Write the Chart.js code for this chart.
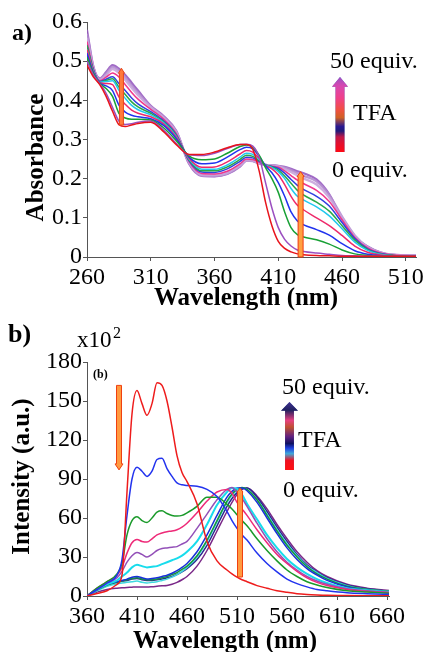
<!DOCTYPE html>
<html><head><meta charset="utf-8">
<script src="https://cdn.jsdelivr.net/npm/chart.js@4.4.0/dist/chart.umd.min.js"></script>
<style>
html,body{margin:0;padding:0;background:#fff;}
#wrap{position:relative;width:424px;height:652px;overflow:hidden;background:#fff;font-family:"Liberation Serif","Times New Roman","DejaVu Serif",serif;color:#000;}
canvas{position:absolute;left:0;}
.t{position:absolute;white-space:nowrap;line-height:1;font-family:"Liberation Serif","Times New Roman","DejaVu Serif",serif;}
.b{font-weight:bold;}
.rot{position:absolute;width:220px;height:25px;line-height:25px;text-align:center;font-weight:bold;font-size:25px;transform:rotate(-90deg);white-space:nowrap;font-family:"Liberation Serif","Times New Roman","DejaVu Serif",serif;}
.gw{position:absolute;filter:drop-shadow(0 0 0.7px #5a7ec4);}
.ga{position:absolute;left:0;top:0;width:100%;height:100%;}
</style></head>
<body><div id="wrap">
<canvas id="ca" width="424" height="320" style="top:0;width:424px;height:320px"></canvas>
<canvas id="cb" width="424" height="332" style="top:320px;width:424px;height:332px"></canvas>

<div class="t b" style="left:12px;top:20px;font-size:24px">a)</div>
<div class="t" style="left:330px;top:48px;font-size:24px">50 equiv.</div>
<div class="t" style="left:353px;top:100px;font-size:24px">TFA</div>
<div class="t" style="left:332px;top:157px;font-size:24px">0 equiv.</div>
<div class="t b" style="left:96px;width:300px;text-align:center;top:284px;font-size:25px">Wavelength (nm)</div>
<div class="rot" style="left:-76.5px;top:144.5px">Absorbance</div>
<div class="gw" style="left:332px;top:77px;width:16px;height:75px"><div class="ga" style="clip-path:polygon(50% 0,100% 13%,78% 13%,78% 100%,22% 100%,22% 13%,0 13%);background:linear-gradient(to top,#ff0a14 0%,#e01030 12%,#c01848 20%,#201a7a 28%,#2a1890 34%,#d06024 46%,#f05040 56%,#f0408a 72%,#d848b0 88%,#9a50c4 100%)"></div></div>

<div class="t b" style="left:8px;top:321px;font-size:26px">b)</div>
<div class="t" style="left:77px;top:328px;font-size:23px">x10</div>
<div class="t" style="left:113px;top:325px;font-size:16px">2</div>
<div class="t b" style="left:93px;top:368px;font-size:12px">(b)</div>
<div class="t" style="left:282px;top:374px;font-size:24px">50 equiv.</div>
<div class="t" style="left:298px;top:427px;font-size:24px">TFA</div>
<div class="t" style="left:283px;top:477px;font-size:24px">0 equiv.</div>
<div class="t b" style="left:75px;width:300px;text-align:center;top:627px;font-size:25px">Wavelength (nm)</div>
<div class="rot" style="left:-90.2px;top:464px">Intensity (a.u.)</div>
<div class="gw" style="left:281px;top:402px;width:17px;height:68px"><div class="ga" style="clip-path:polygon(50% 0,100% 13%,76% 13%,76% 100%,24% 100%,24% 13%,0 13%);background:linear-gradient(to top,#ff1010 0%,#f01020 14%,#40a8d8 24%,#2040e0 32%,#101060 39%,#602080 49%,#c05030 63%,#e84080 73%,#202060 88%,#403090 100%)"></div></div>
</div>
<script>
// ---------- Panel a: absorbance ----------
const WA = [260,265,270,275,280,285,290,295,300,310,320,330,340,350,360,370,380,385,390,395,400,405,410,415,420,425,430,440,450,460,470,480,490,500,520];
const absS1  = [0.49,0.46,0.44,0.41,0.372,0.338,0.333,0.337,0.341,0.344,0.32,0.287,0.262,0.262,0.268,0.279,0.287,0.287,0.275,0.22,0.14,0.08,0.04,0.022,0.013,0.008,0.006,0.004,0.003,0.002,0.002,0.002,0.002,0.002,0.002];
const absS2  = [0.50,0.465,0.442,0.418,0.382,0.347,0.338,0.34,0.344,0.347,0.324,0.29,0.261,0.259,0.265,0.277,0.287,0.288,0.283,0.255,0.19,0.125,0.075,0.045,0.028,0.018,0.014,0.01,0.007,0.004,0.003,0.002,0.002,0.002,0.002];
const absS3  = [0.51,0.468,0.443,0.43,0.41,0.367,0.355,0.352,0.352,0.35,0.33,0.297,0.258,0.248,0.25,0.265,0.282,0.286,0.28,0.26,0.228,0.2,0.165,0.115,0.075,0.057,0.051,0.044,0.033,0.018,0.008,0.004,0.002,0.002,0.002];
const absS4  = [0.52,0.47,0.444,0.437,0.425,0.388,0.37,0.362,0.358,0.353,0.336,0.302,0.255,0.238,0.24,0.255,0.274,0.28,0.276,0.257,0.233,0.215,0.19,0.155,0.115,0.092,0.082,0.07,0.056,0.034,0.016,0.007,0.003,0.002,0.002];
const absS5  = [0.53,0.472,0.445,0.443,0.44,0.409,0.39,0.375,0.367,0.358,0.34,0.306,0.252,0.229,0.23,0.243,0.263,0.272,0.268,0.252,0.234,0.225,0.21,0.185,0.155,0.132,0.12,0.1,0.08,0.055,0.028,0.012,0.005,0.003,0.002];
const absS6  = [0.53,0.474,0.446,0.448,0.45,0.426,0.405,0.387,0.376,0.363,0.343,0.308,0.25,0.224,0.224,0.235,0.255,0.265,0.262,0.249,0.235,0.228,0.218,0.2,0.175,0.155,0.145,0.128,0.105,0.072,0.038,0.017,0.007,0.003,0.002];
const absS7  = [0.54,0.476,0.447,0.451,0.455,0.434,0.415,0.396,0.383,0.367,0.345,0.31,0.248,0.22,0.22,0.23,0.249,0.26,0.257,0.246,0.235,0.23,0.222,0.207,0.188,0.17,0.158,0.14,0.117,0.08,0.043,0.019,0.008,0.004,0.002];
const absS8  = [0.54,0.478,0.448,0.454,0.46,0.443,0.425,0.406,0.391,0.371,0.348,0.312,0.246,0.217,0.216,0.225,0.244,0.255,0.253,0.244,0.235,0.231,0.226,0.214,0.198,0.183,0.172,0.155,0.13,0.088,0.047,0.021,0.009,0.004,0.002];
const absS9  = [0.55,0.48,0.45,0.459,0.47,0.46,0.44,0.42,0.403,0.377,0.352,0.315,0.244,0.213,0.212,0.219,0.238,0.25,0.249,0.242,0.235,0.232,0.229,0.22,0.208,0.196,0.187,0.17,0.142,0.095,0.05,0.023,0.01,0.005,0.003];
const absS10 = [0.56,0.482,0.452,0.464,0.48,0.47,0.452,0.432,0.413,0.382,0.356,0.318,0.242,0.21,0.209,0.215,0.234,0.247,0.246,0.24,0.235,0.233,0.231,0.225,0.217,0.208,0.2,0.185,0.152,0.1,0.053,0.025,0.011,0.005,0.003];
const absS11 = [0.57,0.484,0.454,0.468,0.485,0.476,0.458,0.438,0.419,0.384,0.358,0.32,0.24,0.208,0.207,0.213,0.232,0.246,0.245,0.239,0.235,0.234,0.232,0.228,0.222,0.214,0.207,0.193,0.158,0.103,0.055,0.026,0.011,0.005,0.003];
const absS12 = [0.58,0.486,0.456,0.472,0.49,0.481,0.465,0.445,0.425,0.386,0.36,0.322,0.238,0.207,0.206,0.212,0.231,0.246,0.245,0.239,0.235,0.234,0.233,0.23,0.225,0.219,0.214,0.198,0.16,0.097,0.05,0.027,0.012,0.006,0.004];
const XTA = [260,310,360,410,460,510];
const YTA = [0,0.1,0.2,0.3,0.4,0.5,0.6];
const YLA = ['0','0.1','0.2','0.3','0.4','0.5','0.6'];
// arrows in panel a: [wavelength, from, to]
const arrowsA = [[287,0.337,0.482],[427.5,0.0,0.218]];

// ---------- Panel b: emission ----------
const WB = [360,370,380,390,395,400,405,410,415,420,425,430,435,440,445,450,455,460,470,480,490,500,505,510,515,520,530,540,550,560,570,580,590,600,620,640,665];
const emS1  = [0,2,4,9,16,80,140,158,148,139,148,164,162,150,130,108,95,88,71,42,27,20,17,14.5,12.5,11,8,6,4,2.8,1.8,1.2,0.8,0.5,0.3,0.2,0.1];
const emS2  = [0,5,10,16,28,62,90,99,96,92,96,105,106,98,92,87,85.5,85,84.5,82,76.5,65,58,52,47,43,33,25,18.5,13,9.5,7,5,4,2.5,1.8,1.2];
const emS3  = [0,6,11,17,25,47,58,61,58,56.5,60,64.5,65.5,63.5,62,61.5,62,64,69,76,76,70.5,67,62.5,58,54,44,35,27,20,15,11,8.5,6.5,4,3,2];
const emS4  = [0,6,11,16,22,33,41,43.5,42,41.5,44,47,48.5,49.5,50,51,53,56,64,73,80,82,79,72,67,62,51,41,32,25,19,14,10.5,8,5,3.5,2.5];
const emS5  = [0,5,10,14,19,26,31,33.5,32,30,32,35,36.5,37,37.5,38,40,42,52,63,74,82,83.5,80,75,69,56,44,34,26,20,15,11.5,9,5.5,4,2.5];
const emS6  = [0,5,9,12,15,18,22,24,23,22,22.5,23,24.5,26,27.5,29,31,34,42,55,70,80,83,82.5,78,71,59,47,37,28.5,22,17,13,10,6,4.5,3];
const emS7  = [0,5,9,11,12,13,14.5,15,14,13,13.5,14,15,16,17.5,19.5,22,25,34,47,62,76,80.5,83,83,81,72,60,48,37,28,21,16,12,7,4.5,3];
const emS8  = [0,4.5,8.5,10.5,11.5,12.5,13.5,14,13,12.5,12.5,13,14,15,16.5,18,20.5,23,31,43,58,73,78.5,82,83.5,82,74,62,50,39,30,22.5,17,13,7.5,5,3.5];
const emS9  = [0,4,7.5,9.5,10,10.5,11,11.5,10.5,10,10.5,11,12,13,14.5,16.5,19,22,30,42,57,72,77.5,81.5,83,82,74,63,51,40,31,23,18,13.5,8,5,3.5];
const emS10 = [0,4.5,8.5,10.5,11.5,12,13,13.5,12.5,12,12,12.5,13,14,15,16.5,18.5,21,28,39,54,69,75,79.5,82.5,83,76,65,53,42,32,24,18.5,14,8.5,5.5,3.5];
const emS11 = [0,3,5,6,6.3,6.5,6.8,7,7,7,7.2,7.5,7.8,8,9,10.5,12.5,15,23,35,50,65,72,78,82,83,77,67,55,44,34,26,19.5,15,9,6,4];
const XTB = [360,410,460,510,560,610,660];
const YTB = [0,30,60,90,120,150,180];
const YLB = ['0','30','60','90','120','150','180'];
// arrows in panel b: [wavelength, from (tail), to (head)]
const arrowsB = [[392,162,97],[513,14.6,83]];

// ---------- drawing ----------
const serif = '"Liberation Serif", "Times New Roman", "DejaVu Serif", serif';
function mk(W, arr, color, width){
  return {data: W.map((x,i)=>({x:x,y:arr[i]})), borderColor: color, borderWidth: width||1.5,
          pointRadius:0, fill:false, cubicInterpolationMode:'monotone'};
}
function arrowPlugin(list, styles){
  return {id:'arrows', afterDatasetsDraw(chart){
    const ctx = chart.ctx, xs = chart.scales.x, ys = chart.scales.y;
    list.forEach((a,k)=>{
      const st = styles[k];
      const px = xs.getPixelForValue(a[0]), y1 = ys.getPixelForValue(a[1]), y2 = ys.getPixelForValue(a[2]);
      const dir = Math.sign(y2-y1);
      const w = st.w, hw = st.hw, hh = st.hh;
      ctx.save();
      ctx.beginPath();
      ctx.moveTo(px-w/2, y1);
      ctx.lineTo(px-w/2, y2-dir*hh);
      ctx.lineTo(px-hw/2, y2-dir*hh);
      ctx.lineTo(px, y2);
      ctx.lineTo(px+hw/2, y2-dir*hh);
      ctx.lineTo(px+w/2, y2-dir*hh);
      ctx.lineTo(px+w/2, y1);
      ctx.closePath();
      ctx.fillStyle = st.fill; ctx.fill();
      ctx.lineWidth = 1; ctx.strokeStyle = st.stroke; ctx.stroke();
      ctx.restore();
    });
  }};
}
function axes(xmin,xmax,xt,ymin,ymax,yt,yl,xh,yw){
  const grid = {display:true, drawOnChartArea:false, drawTicks:true, tickLength:4, color:'#555', lineWidth:1};
  const border = {display:true, color:'#555', width:1};
  return {
    x:{type:'linear', min:xmin, max:xmax, grid:grid, border:border,
       afterBuildTicks:s=>{s.ticks = xt.map(v=>({value:v}));},
       afterFit:s=>{s.height=xh; s.paddingLeft=0; s.paddingRight=0;},
       ticks:{font:{family:serif,size:24}, color:'#000', padding:2, maxRotation:0, minRotation:0, autoSkip:false,
              callback:(v,i)=>String(xt[i])}},
    y:{type:'linear', min:ymin, max:ymax, grid:grid, border:border,
       afterBuildTicks:s=>{s.ticks = yt.map(v=>({value:v}));},
       afterFit:s=>{s.width=yw; s.paddingTop=0; s.paddingBottom=0;},
       ticks:{font:{family:serif,size:24}, color:'#000', padding:1, autoSkip:false,
              callback:(v,i)=>yl[i]}}
  };
}
Chart.defaults.font.family = serif;
const common = {responsive:false, animation:false, devicePixelRatio:1,
  plugins:{legend:{display:false}, tooltip:{enabled:false}}};

new Chart(document.getElementById('ca'), {
  type:'line',
  data:{datasets:[
    mk(WA,absS1,'#e8141c'), mk(WA,absS2,'#9b4fc0'), mk(WA,absS3,'#18a035'), mk(WA,absS4,'#2233ee'),
    mk(WA,absS5,'#ee2a6a'), mk(WA,absS6,'#22c8ee'), mk(WA,absS7,'#2aa848'), mk(WA,absS8,'#3040e0'),
    mk(WA,absS9,'#f0368c'), mk(WA,absS10,'rgba(200,165,220,0.9)',2.4), mk(WA,absS11,'rgba(180,140,208,0.9)',2.4), mk(WA,absS12,'rgba(150,90,192,0.9)',2.2)
  ]},
  options:Object.assign({}, common, {
    layout:{padding:{top:22,right:8,left:0,bottom:0}},
    scales:axes(260,518,XTA,0,0.6,YTA,YLA,63,87)
  }),
  plugins:[arrowPlugin(arrowsA,[{w:4,hw:6,hh:5,fill:'#ff7a3a',stroke:'#e8481a'},{w:5,hw:7,hh:5,fill:'#ffa040',stroke:'#f03a10'}])]
});

new Chart(document.getElementById('cb'), {
  type:'line',
  data:{datasets:[
    mk(WB,emS1,'#ee1c1c'), mk(WB,emS2,'#2233ee'), mk(WB,emS3,'#1a9a2a'), mk(WB,emS4,'#ee2a78'),
    mk(WB,emS5,'#9350b8'), mk(WB,emS6,'#18dcec',2), mk(WB,emS7,'#1830d8'), mk(WB,emS8,'#16963c'),
    mk(WB,emS9,'#40d8e0'), mk(WB,emS10,'#2a2a90'), mk(WB,emS11,'#7a2888')
  ]},
  options:Object.assign({}, common, {
    layout:{padding:{top:42,right:35,left:0,bottom:0}},
    scales:axes(360,662,XTB,0,180,YTB,YLB,56,87)
  }),
  plugins:[arrowPlugin(arrowsB,[{w:5,hw:8,hh:6,fill:'#ff9a40',stroke:'#f04010'},{w:5,hw:6,hh:4,fill:'#ff9a40',stroke:'#f04010'}])]
});
</script>
</body></html>
